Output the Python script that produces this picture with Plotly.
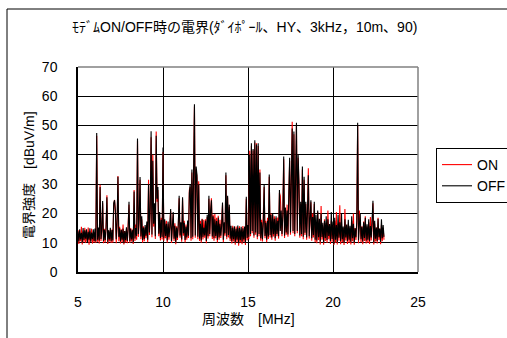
import plotly.graph_objects as go

# Frequency sweep: 5.00 MHz to 23.00 MHz in 0.05 MHz steps
FREQ_START_MHZ = 5.0
FREQ_STEP_MHZ = 0.05

# Field strength [dBuV/m] with the modem ON, one row per MHz
field_on = [
    14.3, 9.6, 13.1, 10.5, 15.4, 9.4, 13.8, 10.2, 15.1, 9.9, 13.3, 10.7, 15.2, 9.3, 13.9, 10.4, 14.8, 9.7, 13.0, 10.1,
    13.6, 9.9, 46.5, 10.3, 14.4, 9.7, 29.8, 10.6, 13.9, 23.5, 9.8, 14.8, 10.1, 15.3, 26.2, 9.6, 14.2, 10.4, 13.7, 9.9,
    14.5, 10.0, 22.8, 24.6, 20.0, 9.8, 16.0, 32.8, 10.5, 15.4, 9.7, 14.6, 10.2, 16.2, 9.4, 14.0, 10.1, 14.7, 9.8, 15.1,
    23.0, 9.9, 15.0, 10.4, 14.5, 9.6, 28.0, 10.6, 16.2, 11.0, 44.8, 12.0, 17.5, 31.5, 11.2, 18.0, 10.0, 15.6, 10.5, 15.2,
    11.5, 16.5, 10.2, 31.5, 12.6, 21.0, 46.0, 11.9, 40.0, 15.5, 22.5, 11.3, 48.0, 24.0, 28.0, 12.2, 19.5, 10.8, 18.5, 11.1,
    41.0, 10.7, 17.3, 11.5, 17.5, 10.0, 16.5, 11.0, 16.0, 20.8, 9.9, 17.0, 19.8, 10.6, 16.6, 9.5, 15.6, 10.9, 15.8, 25.2,
    11.7, 16.3, 10.3, 24.8, 12.4, 17.5, 10.1, 16.2, 11.0, 16.9, 11.6, 28.0, 29.0, 10.7, 34.0, 11.2, 37.0, 56.5, 11.7, 35.0,
    32.0, 11.2, 31.0, 10.6, 17.5, 10.0, 18.2, 11.1, 17.8, 11.7, 18.0, 9.8, 18.8, 11.4, 25.0, 12.2, 20.5, 25.2, 11.3, 19.5,
    10.7, 19.8, 11.5, 18.5, 10.1, 19.2, 11.0, 17.8, 11.6, 16.5, 22.9, 10.2, 16.4, 12.4, 33.0, 11.2, 25.4, 11.8, 22.2, 10.6,
    15.0, 9.7, 15.8, 10.4, 14.8, 9.3, 15.5, 10.2, 15.1, 9.0, 15.6, 10.1, 14.4, 9.5, 15.7, 10.3, 14.6, 9.2, 25.0, 10.8,
    15.5, 11.2, 41.4, 12.2, 43.0, 13.2, 41.5, 11.7, 44.2, 12.7, 44.0, 11.2, 43.0, 12.2, 35.0, 10.7, 17.8, 10.4, 17.2, 29.0,
    11.5, 17.5, 10.2, 18.5, 11.3, 32.5, 11.8, 20.0, 11.0, 19.4, 12.1, 19.0, 10.7, 18.4, 12.2, 18.6, 11.4, 27.0, 26.0, 20.2,
    12.2, 20.2, 38.5, 11.6, 21.5, 12.7, 23.0, 12.0, 26.0, 38.0, 12.7, 41.0, 51.3, 13.2, 47.0, 12.2, 46.0, 50.0, 13.2, 39.0,
    29.0, 11.7, 23.2, 12.2, 35.0, 11.2, 31.5, 12.6, 23.2, 11.0, 21.5, 35.4, 11.4, 20.5, 23.8, 10.7, 20.0, 11.8, 23.2, 10.2,
    17.0, 9.8, 20.5, 10.9, 16.2, 9.4, 22.5, 11.0, 15.5, 9.3, 18.0, 10.6, 16.8, 9.9, 21.0, 11.2, 15.2, 9.6, 17.5, 10.3,
    16.0, 9.2, 17.5, 10.0, 20.5, 9.4, 16.5, 10.7, 22.8, 9.5, 17.0, 10.2, 15.0, 9.2, 21.5, 10.8, 15.8, 9.6, 16.5, 10.0,
    15.2, 9.4, 17.5, 10.5, 20.0, 9.3, 15.0, 10.9, 16.8, 50.0, 9.8, 21.0, 16.5, 10.2, 15.6, 9.5, 17.2, 10.6, 19.0, 9.7,
    15.5, 10.0, 17.0, 9.6, 18.8, 10.8, 15.8, 23.5, 9.4, 16.5, 10.4, 15.2, 9.7, 18.5, 10.9, 14.8, 9.5, 16.2, 10.5, 15.0, 11.0,
]

# Field strength [dBuV/m] with the modem OFF, one row per MHz
field_off = [
    13.9, 10.4, 14.6, 11.1, 13.4, 10.1, 15.0, 10.9, 14.2, 11.4, 14.6, 10.0, 13.7, 11.0, 14.9, 10.3, 13.5, 11.2, 14.6, 10.6,
    14.8, 10.4, 47.5, 11.0, 15.2, 10.7, 29.0, 11.3, 14.5, 24.2, 10.6, 14.4, 10.9, 15.0, 25.5, 10.3, 14.2, 11.1, 15.1, 10.5,
    14.3, 10.8, 23.5, 24.5, 21.0, 11.2, 17.5, 32.5, 12.0, 14.9, 10.4, 14.3, 11.0, 14.8, 9.8, 14.0, 10.9, 15.3, 10.6, 14.5,
    24.0, 10.5, 14.7, 11.1, 14.2, 10.2, 27.5, 11.4, 15.0, 12.3, 45.6, 13.0, 18.5, 32.4, 12.1, 19.0, 10.9, 15.2, 11.3, 16.0,
    12.4, 17.2, 11.0, 30.0, 13.5, 22.0, 48.1, 12.8, 38.0, 16.5, 23.5, 12.2, 46.5, 25.0, 29.0, 13.1, 20.5, 11.6, 17.8, 12.0,
    42.5, 11.5, 18.0, 12.3, 16.5, 10.8, 17.2, 11.9, 15.4, 21.5, 10.6, 16.2, 20.5, 11.4, 15.8, 10.2, 15.2, 11.7, 16.4, 26.0,
    12.5, 17.0, 11.1, 25.5, 13.2, 16.8, 10.9, 15.5, 11.8, 17.6, 12.4, 27.0, 30.0, 11.5, 35.0, 12.0, 38.0, 57.3, 12.5, 36.0,
    33.0, 12.0, 30.0, 11.4, 16.5, 10.8, 18.0, 11.9, 15.2, 12.5, 17.5, 10.6, 19.5, 12.2, 26.0, 13.0, 21.0, 24.5, 12.1, 19.0,
    11.5, 18.0, 12.3, 17.4, 10.9, 18.6, 11.8, 16.5, 12.4, 15.8, 23.7, 11.0, 17.0, 13.2, 34.0, 12.0, 26.0, 12.6, 23.0, 11.4,
    15.8, 10.5, 15.2, 11.2, 15.6, 10.1, 14.8, 11.0, 15.9, 9.8, 15.0, 10.9, 15.4, 10.3, 14.9, 11.1, 15.5, 10.0, 25.7, 11.6,
    16.0, 12.0, 40.0, 13.0, 44.0, 14.0, 42.0, 12.5, 45.0, 13.5, 43.5, 12.0, 44.0, 13.0, 34.0, 11.5, 17.0, 11.2, 16.5, 29.7,
    12.3, 16.8, 11.0, 17.5, 12.1, 33.3, 12.6, 19.5, 11.8, 20.0, 12.9, 18.2, 11.5, 19.0, 13.0, 17.5, 12.2, 28.0, 14.0, 21.0,
    13.0, 19.5, 39.4, 12.4, 22.0, 13.5, 21.0, 12.8, 27.0, 39.0, 13.5, 42.0, 49.0, 14.0, 48.0, 13.0, 47.0, 51.0, 14.0, 40.0,
    30.0, 12.5, 24.0, 13.0, 36.0, 12.0, 32.5, 13.4, 24.0, 11.8, 20.5, 33.0, 12.2, 19.5, 24.5, 11.5, 18.8, 12.6, 24.0, 11.0,
    19.5, 10.8, 21.0, 11.9, 18.2, 10.4, 20.0, 12.0, 16.8, 10.1, 17.5, 11.6, 19.0, 10.9, 18.0, 12.3, 16.4, 10.6, 20.5, 11.3,
    17.2, 9.5, 18.5, 11.0, 16.0, 10.2, 19.5, 11.7, 17.0, 10.5, 20.0, 11.2, 15.5, 10.0, 18.0, 11.8, 16.2, 10.6, 17.8, 11.0,
    15.8, 10.3, 19.0, 11.5, 16.5, 10.1, 14.9, 11.9, 17.5, 51.0, 10.8, 16.0, 20.0, 11.2, 15.4, 10.4, 17.0, 11.6, 18.5, 10.7,
    16.3, 11.0, 18.0, 10.5, 15.7, 11.8, 16.9, 24.3, 10.2, 17.5, 11.4, 15.2, 10.6, 18.2, 11.9, 14.8, 10.3, 18.0, 11.5, 16.0, 12.0,
]

freq = [round(FREQ_START_MHZ + FREQ_STEP_MHZ * i, 2) for i in range(len(field_off))]

X_TICKS = [5, 10, 15, 20, 25]
Y_TICKS = [0, 10, 20, 30, 40, 50, 60, 70]

TITLE = "ﾓﾃﾞﾑON/OFF時の電界(ﾀﾞｲﾎﾟｰﾙ、HY、3kHz，10m、90)"
X_LABEL = "周波数　[MHz]"
Y_LABEL = "電界強度　[dBuV/m]"

FONT = "Liberation Sans, Noto Sans CJK JP, sans-serif"

# Plot area in pixels
W, H = 507, 338
PL, PR, PT, PB = 78, 418, 67, 272


def px_x(p):
    return (p - PL) / (PR - PL)


def px_y(p):
    return (PB - p) / (PB - PT)


fig = go.Figure()
fig.add_trace(go.Scatter(x=freq, y=field_on, mode="lines", name="ON",
                         line=dict(color="#ff0000", width=1.1)))
fig.add_trace(go.Scatter(x=freq, y=field_off, mode="lines", name="OFF",
                         line=dict(color="#000000", width=1.1)))

fig.update_layout(
    width=W, height=H,
    margin=dict(l=PL, r=W - PR, t=PT, b=H - PB, autoexpand=False),
    paper_bgcolor="white", plot_bgcolor="white",
    font=dict(family=FONT, size=14, color="black"),
    showlegend=True,
    legend=dict(x=px_x(436), y=px_y(148), xanchor="left", yanchor="top",
                bordercolor="black", borderwidth=1, bgcolor="white",
                font=dict(size=14, color="black"), tracegroupgap=0, itemwidth=30),
    xaxis=dict(range=[5, 25], tickvals=X_TICKS, showgrid=True,
               gridcolor="#000000", gridwidth=1, showline=True,
               linecolor="black", linewidth=1.5, zeroline=False,
               ticks="", ticklabelstandoff=16, tickfont=dict(size=14, color="black")),
    yaxis=dict(range=[0, 70], tickvals=Y_TICKS, showgrid=True,
               gridcolor="#000000", gridwidth=1, showline=True,
               linecolor="black", linewidth=1.5, zeroline=False,
               ticks="", ticklabelstandoff=16, tickfont=dict(size=14, color="black")),
    annotations=[
        dict(text=TITLE, x=px_x(244), y=px_y(27), xref="paper", yref="paper",
             showarrow=False, font=dict(size=14, color="black"),
             xanchor="center", yanchor="middle"),
        dict(text=X_LABEL, x=px_x(248), y=px_y(319), xref="paper", yref="paper",
             showarrow=False, font=dict(size=14, color="black"),
             xanchor="center", yanchor="middle"),
        dict(text=Y_LABEL, x=px_x(29), y=px_y(175), xref="paper", yref="paper",
             showarrow=False, font=dict(size=14, color="black"),
             textangle=-89.9, xanchor="center", yanchor="middle"),
    ],
    shapes=[
        # outer chart frame
        dict(type="rect", xref="paper", yref="paper",
             x0=px_x(7), x1=px_x(530), y0=px_y(360), y1=px_y(9),
             line=dict(color="black", width=1), layer="below"),
        # gray top and right edges of the plot area
        dict(type="line", xref="paper", yref="paper", x0=0, x1=1, y0=1, y1=1,
             line=dict(color="#808080", width=1.5), layer="above"),
        dict(type="line", xref="paper", yref="paper", x0=1, x1=1, y0=0, y1=1,
             line=dict(color="#808080", width=1.5), layer="above"),
    ],
)

fig.write_html("out.html")
